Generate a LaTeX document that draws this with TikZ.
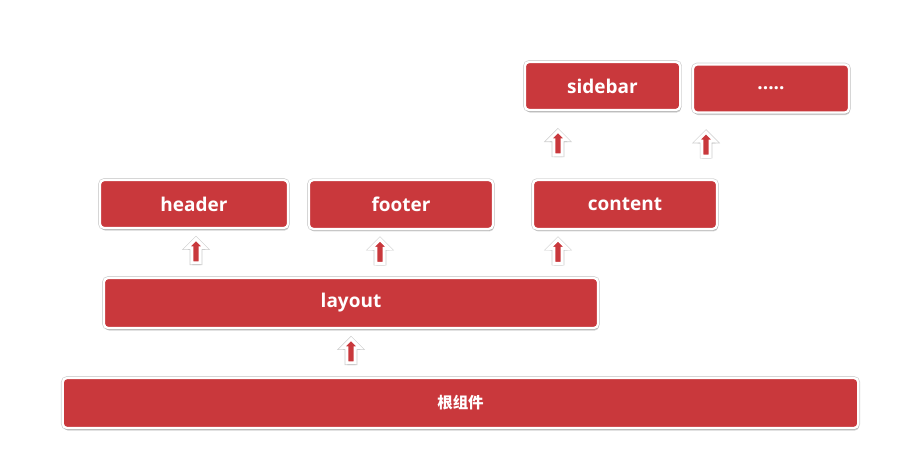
\documentclass[tikz,border=0pt]{standalone}
\usepackage{fontspec}
\setmainfont{Open Sans}
\newfontfamily\cjk{Noto Sans CJK SC}
\usetikzlibrary{shapes.arrows,shadows,positioning}
\definecolor{boxred}{RGB}{201,56,60}
\tikzset{rbox/.style={rounded corners=3pt, fill=boxred, draw=white, line width=1.6pt, text=white, font=\fontsize{13.5}{16}\selectfont\bfseries, inner sep=0pt, preaction={draw=black!18, line width=2.6pt}, drop shadow={shadow xshift=0.6pt, shadow yshift=-1.8pt, opacity=0.35}}}
\tikzset{uparr/.style={single arrow, shape border rotate=90, fill=boxred, draw=white, line width=2.2pt, inner sep=0.065cm, minimum height=0.6cm, single arrow head extend=0.12cm, preaction={draw=black!20, line width=3pt}, drop shadow={shadow xshift=0.4pt, shadow yshift=-1.5pt, opacity=0.35}}}

\begin{document}
\begin{tikzpicture}[x=0.025cm, y=-0.025cm]
				\useasboundingbox (0,0) rectangle (898,449);

				\node[rbox, minimum width=4.7cm, minimum height=1.2cm] (header) at (194,204) {header};
				\node[rbox, minimum width=4.6cm, minimum height=1.22cm] (footer) at (401,204.5) {footer};
				\node[rbox, minimum width=4.6cm, minimum height=1.22cm] (content) at (625,204.5) {content};

				\node[rbox, minimum width=3.88cm, minimum height=1.2cm] (sidebar) at (602.5,86) {sidebar};
				\node[rbox, minimum width=3.9cm, minimum height=1.2cm] (more) at (771,88.5) {.....};

				\node[rbox, minimum width=12.35cm, minimum height=1.25cm] (layout) at (351,303) {layout};
				\node[rbox, minimum width=19.88cm, minimum height=1.25cm, font=\cjk\fontsize{11}{13}\selectfont\bfseries] (root) at (460.5,403) {根组件};

				\path (root.north -| layout.center) -- (layout.south) node[midway, uparr] {};

				\path (header.south |- layout.north) -- (header.south) node[midway, xshift=0.05cm, uparr] {};
				\path ([xshift=-0.525cm]footer.south |- layout.north) -- ([xshift=-0.525cm]footer.south) node[midway, uparr] {};
				\path ([xshift=-1.675cm]content.south |- layout.north) -- ([xshift=-1.675cm]content.south) node[midway, uparr] {};

				\path ([xshift=-1.675cm]content.north) -- ([xshift=-1.675cm]content.north |- sidebar.south) node[midway, uparr] {};
				\path ([xshift=2.025cm]content.north) -- ([xshift=2.025cm]content.north |- more.south) node[midway, uparr] {};
			\end{tikzpicture}
\end{document}
